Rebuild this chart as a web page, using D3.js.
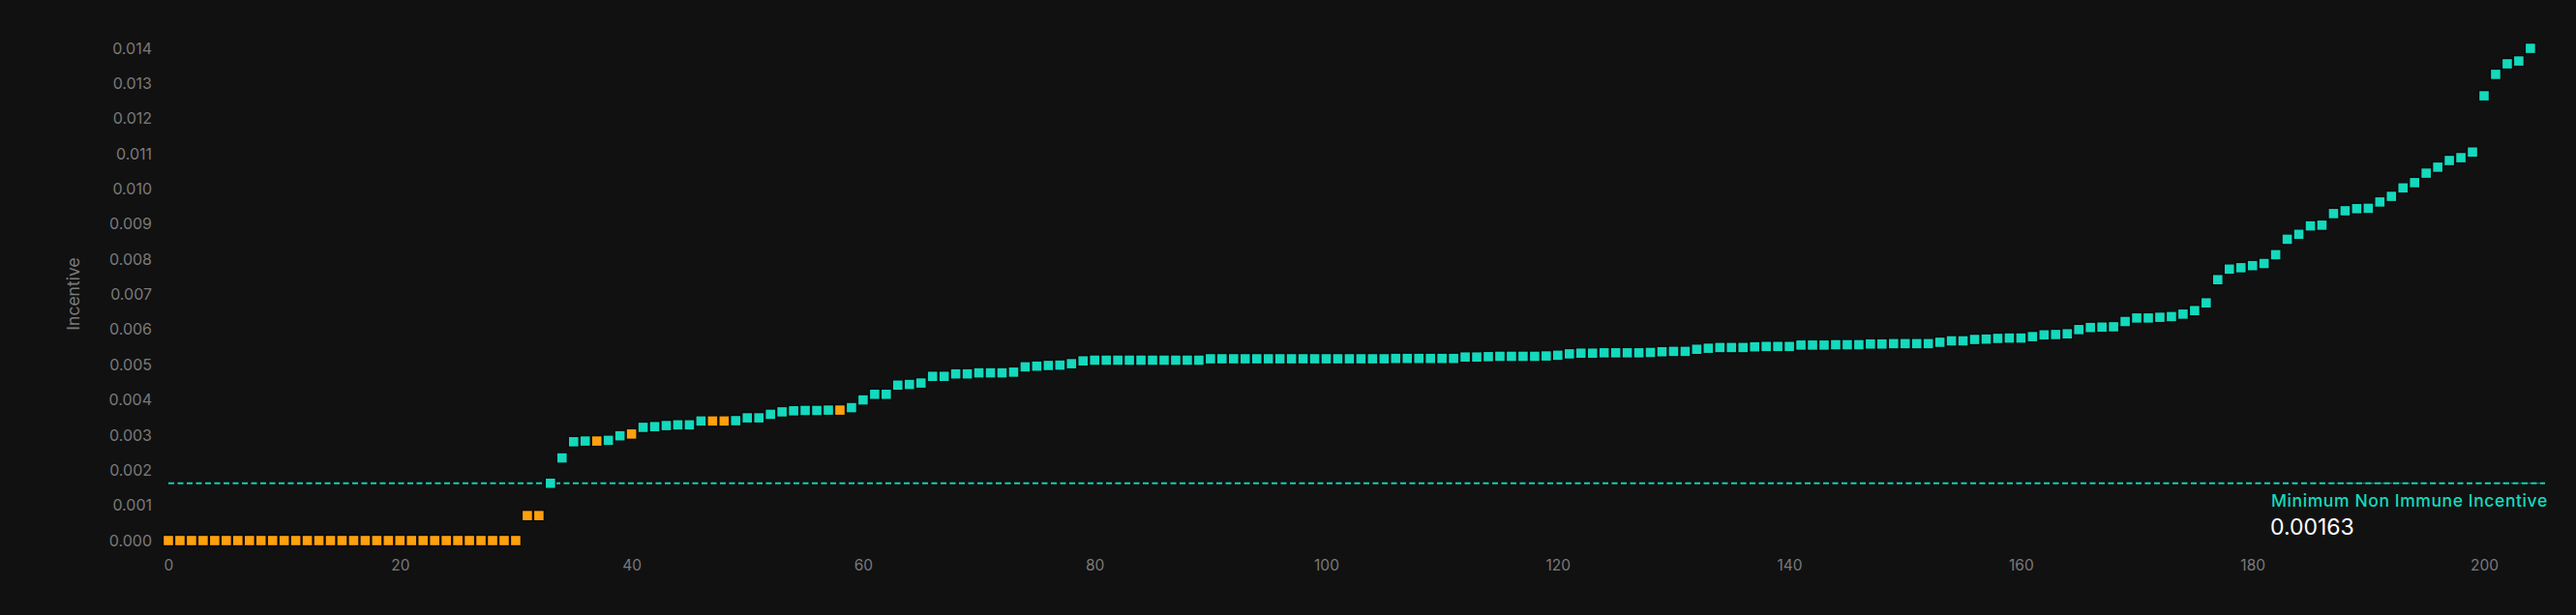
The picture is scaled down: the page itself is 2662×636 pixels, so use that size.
<!DOCTYPE html>
<html>
<head>
<meta charset="utf-8">
<script src="https://cdn.jsdelivr.net/npm/d3@7"></script>
<style>
  html, body { margin: 0; padding: 0; background: #111111; }
  svg { display: block; }
</style>
</head>
<body>
<svg id="chart" width="2662" height="636"></svg>
<script>
// ---- data ----
const incentives = [
  0,0,0,0,0,0,0,0,0,0,
  0,0,0,0,0,0,0,0,0,0,
  0,0,0,0,0,0,0,0,0,0,
  0,0.00071,0.00071,0.00163,0.00235,0.00281,0.00283,0.00283,0.00285,0.00298,
  0.00303,0.00322,0.00324,0.00327,0.00329,0.00329,0.00340,0.00340,0.00340,0.00341,
  0.00349,0.00349,0.00359,0.00366,0.00369,0.00370,0.00370,0.00371,0.00371,0.00378,
  0.00400,0.00416,0.00416,0.00442,0.00444,0.00448,0.00467,0.00467,0.00474,0.00474,
  0.00477,0.00477,0.00477,0.00479,0.00494,0.00496,0.00498,0.00499,0.00503,0.00511,
  0.00513,0.00513,0.00513,0.00513,0.00513,0.00513,0.00513,0.00513,0.00513,0.00513,
  0.00517,0.00517,0.00517,0.00517,0.00517,0.00517,0.00517,0.00517,0.00517,0.00517,
  0.00517,0.00517,0.00517,0.00517,0.00517,0.00517,0.00518,0.00518,0.00518,0.00518,
  0.00518,0.00518,0.00522,0.00522,0.00523,0.00524,0.00524,0.00524,0.00524,0.00525,
  0.00527,0.00531,0.00533,0.00533,0.00534,0.00534,0.00534,0.00534,0.00535,0.00537,
  0.00538,0.00538,0.00544,0.00547,0.00549,0.00549,0.00549,0.00551,0.00552,0.00552,
  0.00552,0.00556,0.00556,0.00556,0.00557,0.00557,0.00557,0.00559,0.00559,0.00560,
  0.00560,0.00560,0.00560,0.00564,0.00568,0.00568,0.00572,0.00573,0.00575,0.00576,
  0.00576,0.00580,0.00585,0.00586,0.00588,0.00600,0.00606,0.00607,0.00608,0.00623,
  0.00633,0.00633,0.00635,0.00637,0.00644,0.00654,0.00676,0.00742,0.00772,0.00776,
  0.00782,0.00788,0.00813,0.00857,0.00871,0.00895,0.00897,0.00930,0.00938,0.00944,
  0.00945,0.00963,0.00979,0.01003,0.01018,0.01045,0.01062,0.01081,0.01089,0.01105,
  0.01265,0.01326,0.01356,0.01364,0.01400
];
const immuneIndices = [
  0,1,2,3,4,5,6,7,8,9,10,11,12,13,14,15,16,17,18,19,20,21,22,23,24,25,26,27,28,29,30,31,32,
  37,40,47,48,58
];
const minNonImmune = 0.00163;
const yTicks = [0,0.001,0.002,0.003,0.004,0.005,0.006,0.007,0.008,0.009,0.010,0.011,0.012,0.013,0.014];
const xTicks = [0,20,40,60,80,100,120,140,160,180,200];
const yLabel = "Incentive";
const annotationTitle = "Minimum Non Immune Incentive";
const annotationValue = "0.00163";

// ---- drawing ----
const TEAL = "#14d9bd";
const ORANGE = "#ffa00d";
const GRID_TEXT = "#7a7a7a";
const FONT = "Inter, 'Noto Sans', sans-serif";

const svg = d3.select("#chart");
svg.append("rect").attr("width", 2662).attr("height", 636).attr("fill", "#111111");

const x = d3.scaleLinear().domain([0, 205]).range([174, 174 + 205 * 11.965]);
const y = d3.scaleLinear().domain([0, 0.014]).range([559, 50]);

// y axis
const yAxis = d3.axisLeft(y).tickValues(yTicks).tickFormat(d3.format(".3f")).tickSize(0).tickPadding(0);
const gy = svg.append("g").attr("transform", "translate(157,0)").call(yAxis);
gy.select(".domain").remove();
gy.selectAll("text").attr("fill", GRID_TEXT).attr("font-family", FONT).attr("font-size", 16);

// x axis
const xAxis = d3.axisBottom(x).tickValues(xTicks).tickFormat(d3.format("d")).tickSize(0).tickPadding(0);
const gx = svg.append("g").attr("transform", "translate(0,579)").call(xAxis);
gx.select(".domain").remove();
gx.selectAll("text").attr("fill", GRID_TEXT).attr("font-family", FONT).attr("font-size", 15.5);

// y label
svg.append("text")
  .attr("transform", "translate(82,304) rotate(-90)")
  .attr("text-anchor", "middle")
  .attr("fill", GRID_TEXT)
  .attr("font-family", FONT)
  .attr("font-size", 17.5)
  .text(yLabel);

// threshold line
svg.append("line")
  .attr("x1", x(0)).attr("x2", 2630)
  .attr("y1", y(minNonImmune)).attr("y2", y(minNonImmune))
  .attr("stroke", TEAL).attr("stroke-opacity", 0.95)
  .attr("stroke-width", 1.8).attr("stroke-dasharray", "6,3.5");
svg.append("line")
  .attr("x1", 2347).attr("x2", 2630)
  .attr("y1", y(minNonImmune)).attr("y2", y(minNonImmune))
  .attr("stroke", TEAL).attr("stroke-opacity", 0.6)
  .attr("stroke-width", 1.2).attr("stroke-dasharray", "4,5").attr("stroke-dashoffset", 4.5);

// points
const immuneSet = new Set(immuneIndices);
const S = 11;
svg.append("g").selectAll("rect")
  .data(incentives.map((v, i) => ({ i, v })))
  .join("rect")
  .attr("x", d => x(d.i) - S / 2)
  .attr("y", d => y(d.v) - S / 2)
  .attr("width", S).attr("height", S)
  .attr("fill", d => immuneSet.has(d.i) ? ORANGE : TEAL)
  .attr("stroke", "#0b0b0b").attr("stroke-width", 1.4);

// annotation
svg.append("text")
  .attr("x", 2347).attr("y", 524)
  .attr("fill", TEAL).attr("font-family", FONT).attr("font-size", 17.5).attr("font-weight", 500)
  .attr("letter-spacing", 0.6)
  .text(annotationTitle);
svg.append("text")
  .attr("x", 2346).attr("y", 553)
  .attr("fill", "#ffffff").attr("font-family", FONT).attr("font-size", 23)
  .text(annotationValue);
</script>
</body>
</html>
